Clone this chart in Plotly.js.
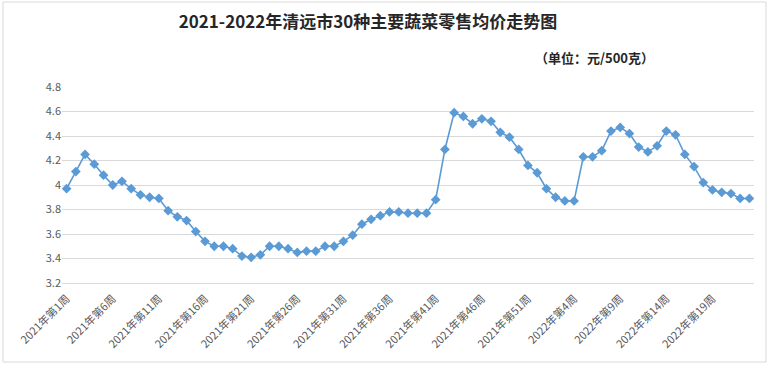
<!DOCTYPE html>
<html>
<head>
<meta charset="utf-8">
<script src="https://cdn.plot.ly/plotly-3.0.1.min.js"></script>
<style>
html,body{margin:0;padding:0;background:#fff;}
#chart{width:770px;height:366px;}
</style>
</head>
<body>
<div id="chart"></div>
<script>
// 2021 weeks 1-52
const prices2021 = [3.97,4.11,4.25,4.17,4.08,4.00,4.03,3.97,3.92,3.90,
                    3.89,3.79,3.74,3.71,3.62,3.54,3.50,3.50,3.48,3.42,
                    3.41,3.43,3.50,3.50,3.48,3.45,3.46,3.46,3.50,3.50,
                    3.54,3.59,3.68,3.72,3.75,3.78,3.78,3.77,3.77,3.77,
                    3.88,4.29,4.59,4.56,4.50,4.54,4.52,4.43,4.39,4.29,
                    4.16,4.10];
// 2022 weeks 1-23
const prices2022 = [3.97,3.90,3.87,3.87,4.23,4.23,4.28,4.44,4.47,4.42,
                    4.31,4.27,4.32,4.44,4.41,4.25,4.15,4.02,3.96,3.94,
                    3.93,3.89,3.89];
const yTickVals = [3.2,3.4,3.6,3.8,4.0,4.2,4.4,4.6,4.8];
const yTickText = ['3.2','3.4','3.6','3.8','4','4.2','4.4','4.6','4.8'];

const categories = [];
prices2021.forEach((v,i)=>categories.push('2021年第'+(i+1)+'周'));
prices2022.forEach((v,i)=>categories.push('2022年第'+(i+1)+'周'));
const values = prices2021.concat(prices2022);
const xTickVals = categories.filter((c,i)=>i%5===0);

const trace = {
  x: categories, y: values, type:'scatter', mode:'lines+markers',
  line:{color:'#5B9BD5', width:1.6},
  marker:{symbol:'diamond', size:7.5, color:'#5B9BD5'},
  hoverinfo:'x+y'
};

const layout = {
  width:770, height:366,
  margin:{l:62, r:16, t:87, b:83},
  paper_bgcolor:'#fff', plot_bgcolor:'#fff',
  showlegend:false,
  font:{family:'"Noto Sans CJK SC", "Noto Sans", sans-serif', color:'#595959'},
  title:{text:'<b>2021-2022年清远市30种主要蔬菜零售均价走势图</b>',
         font:{size:17, color:'#262626', family:'"Noto Sans CJK SC", serif'},
         x:0.478, xanchor:'center', y:0.94, yanchor:'middle'},
  xaxis:{type:'category', tickmode:'array', tickvals:xTickVals, ticktext:xTickVals,
         tickangle:-45, tickfont:{size:11, color:'#595959'},
         showgrid:false, showline:true, linecolor:'#D9D9D9', linewidth:1,
         ticks:'outside', ticklen:4, tickcolor:'rgba(0,0,0,0)',
         zeroline:false, range:[-0.5, categories.length-0.5]},
  yaxis:{range:[3.2,4.8], tickmode:'array', tickvals:yTickVals, ticktext:yTickText,
         tickfont:{size:11, color:'#595959'}, showgrid:true, gridcolor:'#D9D9D9',
         gridwidth:1, showline:false, zeroline:false, ticks:'', ticklen:0, automargin:false},
  annotations:[{text:'<b>（单位：元/500克）</b>', xref:'paper', yref:'paper',
    x:650, y:58, showarrow:false, font:{size:13, color:'#262626'}}],
  shapes:[{type:'rect', xref:'paper', yref:'paper', x0:0, x1:1, y0:0, y1:1,
    line:{color:'#D9D9D9', width:1}, layer:'below'}]
};
// Position the unit note in pixel terms via paper coordinates
const pw = 770-62-16, ph = 366-87-83;
layout.annotations[0].x = (594-62)/pw;
layout.annotations[0].y = (366-83-58)/ph;
layout.annotations[0].xanchor='center';
layout.annotations[0].yanchor='middle';
layout.shapes[0].x0 = (3-62)/pw; layout.shapes[0].x1 = (766-62)/pw;
layout.shapes[0].y0 = (366-83-362)/ph; layout.shapes[0].y1 = (366-83-2)/ph;

Plotly.newPlot('chart',[trace],layout,{displayModeBar:false, staticPlot:true});
</script>
</body>
</html>
